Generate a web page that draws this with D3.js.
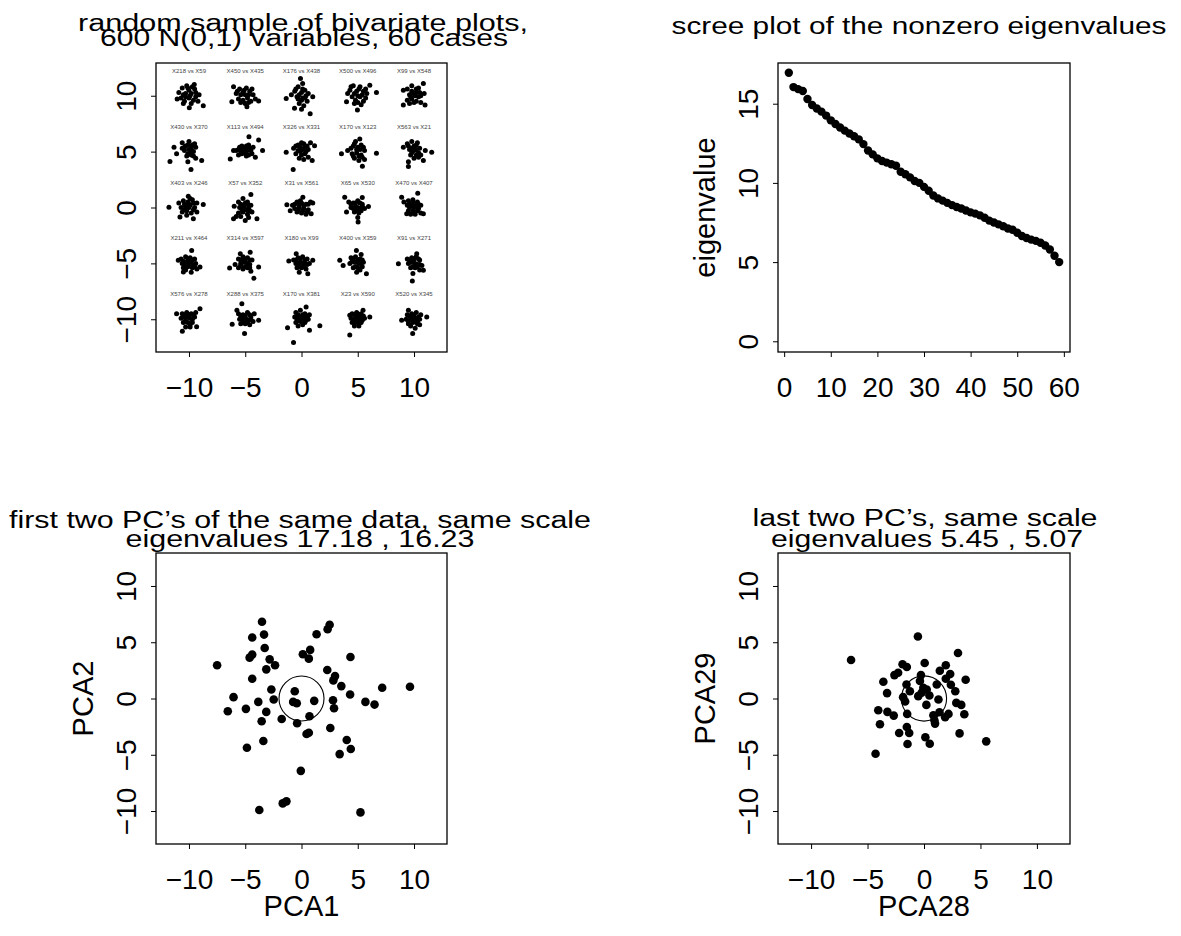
<!DOCTYPE html>
<html>
<head>
<meta charset="utf-8">
<script src="https://cdn.jsdelivr.net/npm/d3@7"></script>
<style>
  body { margin: 0; background: #fff; }
  text { font-family: "Liberation Sans", Arial, Helvetica, sans-serif; }
</style>
</head>
<body>
<div id="chart"></div>
<script>
// grid of bivariate plots (top left)
const gridX = [-10, -5, 0, 5, 10];
const gridY = [10, 5, 0, -5, -10];
const pairLabels = [
  'X218 vs X59', 'X450 vs X435', 'X176 vs X438', 'X500 vs X496', 'X99 vs X548',
  'X430 vs X370', 'X113 vs X494', 'X326 vs X331', 'X170 vs X123', 'X563 vs X21',
  'X403 vs X246', 'X57 vs X352', 'X31 vs X561', 'X65 vs X530', 'X470 vs X407',
  'X211 vs X464', 'X314 vs X597', 'X180 vs X99', 'X400 vs X359', 'X91 vs X271',
  'X576 vs X278', 'X288 vs X375', 'X170 vs X381', 'X23 vs X590', 'X520 vs X345'
];
// offsets of each small cloud from its grid centre
const pairPoints = [
  [[-0.9,0.3],[-0.6,0.7],[-0.3,0.2],[0,0.5],[0.3,0.8],[0.6,0.3],[0.9,0.1],[-0.7,-0.2],[-0.4,-0.5],[0,-0.2],[0.4,-0.4],[0.8,-0.5],[-0.2,0.9],[0.47,1.0],[1.27,-0.89],[0.03,-1.07],[-1.05,-0.3],[0.2,-0.7],
   [-0.5,0.1],[-0.1,0.7],[0.2,0.2],[0.5,0.6],[-0.3,-0.1],[0.6,-0.1],[-0.5,-0.7],[0.1,0.0]],
  [[-0.8,0.2],[-0.5,0.6],[-0.2,0.3],[0.1,0.7],[0.4,0.4],[0.7,0.1],[-0.6,-0.3],[-0.2,-0.4],[0.2,-0.2],[0.5,-0.5],[0,0.1],[-1.04,0.8],[1.19,-0.47],[0.15,-0.98],[-1.19,-0.53],[0.9,-0.3],
   [-0.4,0.1],[-0.1,0.5],[0.3,0.1],[0.6,0.6],[-0.4,-0.6],[0,-0.7],[0.3,-0.6],[-0.7,0.4]],
  [[-0.6,0.4],[-0.3,0.8],[0,0.3],[0.3,0.5],[0.6,0.2],[-0.4,-0.1],[0,-0.4],[0.3,-0.2],[-0.2,-0.7],[0.2,-0.9],[-0.09,1.54],[0.77,-1.6],[-1.36,-0.24],[-0.62,-1.13],[1.0,-0.1],[0.1,1.1],[-0.9,0.1],
   [-0.2,0.1],[0.1,0.6],[0.4,0.0],[-0.5,0.6],[0.1,-0.2],[-0.3,-0.3],[0.5,-0.5],[0,-1.2]],
  [[-0.7,0.5],[-0.4,0.9],[-0.1,0.4],[0.2,0.8],[0.5,0.4],[0.8,0.2],[-0.5,-0.1],[-0.2,-0.4],[0.2,-0.1],[0.5,-0.5],[0,0],[1.66,0.3],[-0.03,-1.27],[1.07,0.95],[-1.0,-0.53],[-0.9,0.2],[0.3,-0.8],
   [-0.3,0.2],[0.1,0.6],[0.4,0.1],[0.7,0.6],[-0.3,-0.7],[0,-0.6],[0.7,-0.2],[-0.6,0.8]],
  [[-0.6,0.6],[-0.2,0.9],[0.2,0.6],[0.5,0.3],[-0.4,0.1],[0,0.2],[0.4,-0.1],[-0.6,-0.4],[-0.2,-0.3],[0.2,-0.5],[0.6,-0.6],[0.83,1.1],[-0.95,-0.83],[0.98,-0.83],[-0.95,0.5],[0.9,0.2],
   [-0.2,0.4],[0.2,0.3],[0.4,0.7],[-0.3,-0.1],[0.1,0],[-0.4,-0.7],[0,-0.6],[0.6,0]],
  [[-0.6,0.8],[-0.3,0.5],[0,0.9],[0.3,0.6],[0.6,0.4],[-0.4,0.1],[0,0.2],[0.4,0],[-0.2,-0.4],[0.2,-0.3],[0.6,-0.6],[-1.69,-0.89],[-1.33,0.39],[0.18,-1.6],[-1.1,-0.2],[1.13,-0.8],[-0.1,-0.9],
   [-0.4,0.4],[-0.1,0.6],[0.2,0.3],[0.5,0.7],[-0.6,0.3],[0.2,0.0],[-0.1,-0.2],[0.4,-0.4]],
  [[-0.8,0.1],[-0.5,0.4],[-0.2,0.2],[0.1,0.5],[0.4,0.3],[0.7,0.4],[-0.6,-0.3],[-0.3,-0.2],[0,-0.1],[0.3,-0.3],[0.6,-0.2],[0.33,1.33],[1.19,1.04],[1.54,0.09],[-1.33,-0.65],[-1.04,0.09],[0.9,-0.5],
   [-0.6,0.2],[-0.3,0.5],[0,0.3],[0.3,0.6],[0.2,0.1],[-0.4,0],[0.1,-0.4],[0.5,0.1]],
  [[-0.7,0.3],[-0.3,0.6],[0,0.8],[0.3,0.4],[0.6,0.2],[-0.5,-0.2],[-0.1,0],[0.3,-0.2],[-0.2,-0.6],[0.2,-0.7],[0.6,-0.5],[-0.74,-1.6],[1.16,0.53],[-1.36,-0.06],[0.95,-0.8],[0.8,0.8],
   [-0.5,0.5],[-0.1,0.4],[0.2,0.7],[0.5,0.5],[-0.3,0.1],[0.1,0.2],[0.4,0],[0,-0.3]],
  [[-0.6,0.3],[-0.3,0.7],[0,0.4],[0.3,0.6],[0.6,0.1],[-0.5,-0.2],[-0.1,-0.1],[0.3,-0.3],[-0.3,-0.6],[0.1,-0.8],[0.6,-0.7],[0.18,1.13],[1.66,-0.15],[-1.45,-0.2],[0.41,-1.3],[-0.9,0.1],
   [-0.4,0.5],[-0.1,0.2],[0.2,0.2],[0.5,0.4],[-0.2,0.9],[0.1,-0.4],[-0.4,-0.4],[0.4,-0.5]],
  [[-0.6,0.7],[-0.2,0.9],[0.2,0.6],[0.5,0.3],[-0.4,0.2],[0,0.1],[0.4,-0.1],[-0.3,-0.3],[0,-0.6],[0.4,-0.5],[-0.5,-0.9],[1.57,-0.06],[-0.5,-1.33],[-0.95,0.39],[0.83,-0.8],[1.0,0.1],
   [-0.5,0.5],[0,0.5],[0.3,0.8],[-0.2,0.3],[0.2,0.2],[-0.2,-0.1],[0.2,-0.3],[0.6,-0.3]],
  [[-0.9,0.4],[-0.5,0.6],[-0.1,0.5],[0.3,0.7],[0.7,0.4],[-0.7,0],[-0.3,0.1],[0.1,0.2],[0.5,0],[-0.6,-0.4],[-0.2,-0.3],[0.2,-0.5],[0.7,-0.4],[-1.78,0.03],[-0.06,1.0],[1.27,0.27],[-0.8,-0.86],[0.39,-1.0],
   [-0.4,0.3],[0,0.3],[0.4,0.4],[-0.4,-0.2],[0,0],[0.4,-0.2],[-0.2,-0.7],[0.1,0.8]],
  [[-0.6,0.5],[-0.2,0.8],[0.2,0.5],[0.5,0.2],[-0.5,0],[-0.1,0.1],[0.3,-0.1],[-0.6,-0.5],[-0.2,-0.4],[0.2,-0.6],[0.6,-0.4],[0.5,1.16],[-0.98,0.12],[-1.04,-1.0],[1.04,-1.0],[0,-1.16],[-0.8,-0.8],
   [-0.4,0.3],[0,0.4],[0.3,0.2],[-0.3,-0.2],[0.1,-0.2],[0.4,-0.3],[-0.4,-0.8],[0.3,-0.9]],
  [[-0.8,0.2],[-0.4,0.5],[0,0.4],[0.4,0.3],[0.8,0.5],[-0.6,-0.1],[-0.2,0],[0.2,-0.1],[0.6,-0.2],[-0.4,-0.4],[0,-0.5],[0.4,-0.6],[-1.3,0.24],[1.0,0.41],[0.86,-0.56],[0.12,0.92],[-1.0,-0.3],
   [-0.6,0.3],[-0.2,0.3],[0.2,0.2],[0.6,0.3],[-0.3,-0.2],[0.1,-0.3],[0.5,-0.4],[-0.1,0.6]],
  [[-0.8,0.5],[-0.4,0.4],[0,0.6],[0.4,0.3],[-0.6,0],[-0.2,0.1],[0.2,-0.1],[0.6,-0.1],[-0.3,-0.4],[0.1,-0.5],[0,-0.9],[-1.16,0.92],[0.95,0.09],[0.03,-1.3],[-1.0,-0.41],[0.4,0.9],
   [-0.6,0.3],[-0.2,0.4],[0.2,0.4],[-0.4,-0.1],[0,0],[0.4,0.1],[-0.1,-0.3],[0.3,-0.3]],
  [[-0.5,0.6],[-0.1,0.7],[0.3,0.5],[-0.6,0.2],[-0.2,0.2],[0.2,0.1],[0.6,0.2],[-0.5,-0.3],[-0.1,-0.3],[0.3,-0.3],[0.6,-0.5],[0.33,1.27],[-1.1,0.92],[0.83,-0.56],[-0.65,-0.56],[-0.9,0.5],
   [-0.4,0.4],[0,0.4],[0.4,0.3],[-0.4,0],[0,0],[0.4,-0.1],[-0.3,-0.6],[0.1,-0.6]],
  [[-0.7,0.4],[-0.3,0.6],[0.1,0.5],[0.5,0.4],[-0.6,0],[-0.2,0.1],[0.2,0.1],[0.6,0],[-0.5,-0.4],[-0.1,-0.3],[0.3,-0.4],[0.7,-0.5],[0.24,1.16],[-0.95,0.27],[0.98,-0.33],[-0.5,-0.77],[0.2,-0.8],
   [-0.5,0.2],[-0.1,0.3],[0.3,0.3],[-0.4,-0.2],[0,-0.1],[0.4,-0.2],[-0.3,-0.6],[0.5,-0.3]],
  [[-0.6,0.4],[-0.2,0.6],[0.2,0.5],[0.6,0.3],[-0.4,0],[0,0.1],[0.4,-0.1],[-0.6,-0.4],[-0.2,-0.5],[0.2,-0.4],[0.5,-0.7],[-1.39,-0.41],[0.77,-1.33],[1.19,-0.33],[-0.44,0.86],[0.44,1.0],[-0.9,-0.1],
   [-0.4,0.3],[0,0.4],[0.4,0.3],[-0.2,0.1],[0.2,0],[-0.4,-0.2],[0,-0.3],[0.4,-0.4]],
  [[-0.7,0.3],[-0.3,0.5],[0.1,0.6],[0.5,0.4],[-0.5,0],[-0.1,0.1],[0.3,0],[0.7,0],[-0.4,-0.4],[0,-0.4],[0.4,-0.5],[-1.13,0.21],[1.0,0.27],[0.56,-0.92],[-0.47,0.86],[-0.2,-0.8],
   [-0.5,0.3],[-0.1,0.4],[0.3,0.3],[-0.3,0],[0.1,0],[0.5,-0.1],[-0.2,-0.3],[0.2,-0.3]],
  [[-0.6,0.5],[-0.2,0.6],[0.2,0.4],[-0.7,0],[-0.3,0.1],[0.1,0],[0.5,0.1],[-0.4,-0.4],[0,-0.4],[0.4,-0.3],[-0.1,-0.8],[-1.6,0.27],[-1.3,-0.18],[-0.12,1.16],[0.77,-0.92],[0.3,0.8],
   [-0.4,0.4],[0,0.3],[0.4,0.3],[-0.5,0.2],[-0.1,0.1],[0.3,0],[-0.2,-0.3],[0.2,-0.6]],
  [[-0.6,0.4],[-0.2,0.5],[0.2,0.6],[0.5,0.3],[-0.5,0],[-0.1,0.1],[0.3,-0.1],[0.7,-0.2],[-0.3,-0.4],[0.1,-0.4],[0.5,-0.6],[-0.15,-1.57],[-1.39,-0.03],[0.83,-0.62],[0.24,0.86],[-0.1,-0.9],
   [-0.4,0.3],[0,0.4],[0.4,0.4],[-0.3,0.1],[0.1,0],[0.5,-0.1],[-0.1,-0.3],[0.3,-0.3]],
  [[-0.6,0.5],[-0.2,0.6],[0.2,0.5],[0.6,0.6],[-0.7,0.1],[-0.3,0.1],[0.1,0.1],[0.5,0.2],[-0.5,-0.3],[-0.1,-0.3],[0.3,-0.3],[-0.3,-0.7],[-0.59,-1.07],[-1.1,0.5],[0.98,0.95],[0.68,-0.68],[0.1,-0.7],
   [-0.4,0.4],[0,0.4],[0.4,0.4],[-0.5,0.2],[-0.1,0.2],[0.3,0],[-0.3,-0.2],[0.1,-0.5]],
  [[-0.6,0.5],[-0.2,0.4],[0.2,0.6],[0.5,0.2],[-0.5,0],[-0.1,0.1],[0.3,-0.1],[0.7,-0.2],[-0.4,-0.4],[0,-0.4],[0.4,-0.5],[-0.3,1.39],[-1.16,-0.44],[-0.06,-1.27],[-0.74,0.8],[1.19,-0.09],[0.8,0.5],
   [-0.4,0.3],[0,0.3],[0.4,0.4],[-0.3,0],[0.1,0],[0.5,0],[-0.2,-0.3],[0.2,-0.3]],
  [[-0.5,0.6],[-0.1,0.8],[0.3,0.5],[0.7,0.4],[-0.6,0.2],[-0.2,0.2],[0.2,0.1],[0.6,0],[-0.5,-0.3],[-0.1,-0.2],[0.3,-0.3],[-0.3,-0.6],[-0.71,-2.07],[1.63,-0.59],[-1.24,-0.77],[0.71,-0.98],[0.41,1.1],
   [-0.3,0.4],[0.1,0.4],[0.5,0.3],[-0.4,0],[0,0],[0.4,-0.1],[-0.3,-0.1],[0.1,-0.5]],
  [[-0.5,0.5],[-0.1,0.6],[0.3,0.5],[-0.6,0.1],[-0.2,0.2],[0.2,0.1],[0.6,0.1],[-0.5,-0.3],[-0.1,-0.2],[0.3,-0.3],[-0.3,-0.6],[0.1,-0.6],[-0.71,-1.42],[1.07,0.21],[0.47,0.8],[-0.71,0.36],
   [-0.3,0.4],[0.1,0.4],[0.5,0.3],[-0.4,-0.1],[0,0],[0.4,-0.1],[-0.3,-0.4],[0.1,-0.4]],
  [[-0.6,0.4],[-0.2,0.5],[0.2,0.6],[0.6,0.4],[-0.7,0],[-0.3,0.1],[0.1,0.1],[0.5,0],[-0.5,-0.4],[-0.1,-0.3],[0.3,-0.4],[0.1,-0.8],[-0.5,0.8],[1.13,0.21],[-0.12,-1.27],[-1.1,-0.09],
   [-0.4,0.3],[0,0.3],[0.4,0.2],[-0.5,-0.2],[-0.1,-0.1],[0.3,-0.2],[-0.3,-0.6],[0.5,-0.5]]
];

// scree plot (top right)
const eigenvalues = [
  16.95, 16.05, 15.92, 15.80, 15.30, 14.92, 14.70, 14.50, 14.25, 13.95,
  13.72, 13.50, 13.30, 13.12, 12.95, 12.75, 12.45, 12.05, 11.80, 11.55,
  11.38, 11.28, 11.18, 11.08, 10.70, 10.55, 10.35, 10.12, 10.00, 9.75,
  9.50, 9.20, 9.02, 8.88, 8.74, 8.60, 8.48, 8.38, 8.26, 8.14,
  8.06, 7.95, 7.80, 7.62, 7.50, 7.38, 7.26, 7.12, 7.04, 6.85,
  6.65, 6.52, 6.42, 6.34, 6.22, 6.05, 5.80, 5.40, 5.00
];

// first two PCs (bottom left)
const pca1 = [-3.51,-4.38,-3.33,-3.27,-4.61,-4.38,-2.83,-2.35,-3.13,-7.5,-4.38,-2.68,-2.47,-6.04,-6.55,-4.94,-3.84,-3.13,-3.54,-1.76,-3.39,-4.85,-0.60,-0.74,-0.42,1.13,0.71,-0.39,0.45,0.65,-0.06,-1.67,-1.34,-3.75,5.24,0.12,0.77,0.65,1.34,2.32,2.5,4.35,2.29,2.98,2.83,3.54,4.32,2.80,2.89,2.56,4.02,4.38,3.39,5.68,6.49,7.17,9.64];
const pca2 = [6.82,5.42,5.68,4.49,3.63,3.90,3.48,2.95,2.59,2.95,1.76,0.80,-0.09,0.12,-1.13,-0.92,-0.30,-1.19,-2.02,-1.82,-3.78,-4.38,0.65,-0.30,-0.42,-0.21,-1.58,-2.20,-3.15,-3.04,-6.43,-9.32,-9.14,-9.91,-10.12,3.93,4.32,3.54,5.71,6.16,6.55,3.69,2.53,1.99,1.61,1.10,0.36,-0.15,-0.86,-2.62,-3.69,-4.49,-4.94,-0.30,-0.54,0.95,1.04];

// last two PCs (bottom right)
const pca28 = [-0.54,-6.46,3.01,-1.90,-1.52,-2.62,-2.29,0.06,1.40,1.93,2.32,1.93,3.69,-3.60,-0.27,-0.36,-1.55,1.13,2.38,-3.27,-1.25,-0.06,0.24,-0.51,-0.21,0.48,2.77,-1.85,-1.67,1.28,0.21,2.86,3.30,-4.05,-3.24,-2.68,-1.49,1.37,0.83,0.92,1.87,2.17,3.57,-3.90,0.98,-1.52,-2.20,-1.31,0.12,0.51,-1.46,3.15,5.51,-4.29];
const pca29 = [5.51,3.42,4.05,3.04,2.80,2.08,2.29,3.15,2.47,2.95,2.17,1.76,1.67,1.49,2.08,1.55,1.25,1.25,1.22,0.48,0.65,0.95,0.80,0.21,0.51,0.27,0.65,0.12,-0.27,-0.09,-0.57,-0.39,-0.57,-1.04,-1.19,-1.52,-1.37,-1.22,-1.49,-1.93,-1.67,-1.37,-1.40,-2.29,-2.23,-2.53,-3.07,-3.07,-3.45,-4.02,-4.05,-3.10,-3.81,-4.91];

const symTicks = [-10, -5, 0, 5, 10];
const screeXTicks = [0, 10, 20, 30, 40, 50, 60];
const screeYTicks = [0, 5, 10, 15];
const circleRadius = 2;

const W = 1181, H = 936;
const svg = d3.select('#chart').append('svg')
  .attr('width', W)
  .attr('height', H);
svg.append('rect').attr('width', W).attr('height', H).attr('fill', '#fff');

const fmt = d3.format('d');

// draws box, axes and labels, returns scales
function panel(o) {
  const x = d3.scaleLinear().domain(o.xDomain).range([o.left, o.right]);
  const y = d3.scaleLinear().domain(o.yDomain).range([o.bottom, o.top]);
  const g = svg.append('g');

  const xAxis = g.append('g')
    .attr('transform', `translate(0,${o.bottom})`)
    .call(d3.axisBottom(x).tickValues(o.xTicks).tickFormat(fmt).tickSize(5).tickSizeOuter(0));
  xAxis.select('.domain').remove();
  xAxis.selectAll('line').attr('stroke', '#000');
  xAxis.selectAll('text')
    .attr('y', 45).attr('dy', 0)
    .attr('fill', '#000')
    .style('font-size', '28px')
    .style('font-family', '"Liberation Sans", Arial, sans-serif');

  const yAxis = g.append('g')
    .attr('transform', `translate(${o.left},0)`)
    .call(d3.axisLeft(y).tickValues(o.yTicks).tickFormat(fmt).tickSize(5).tickSizeOuter(0));
  yAxis.select('.domain').remove();
  yAxis.selectAll('line').attr('stroke', '#000');
  yAxis.selectAll('text')
    .attr('transform', 'rotate(-90)')
    .attr('x', 0).attr('y', -20).attr('dy', 0)
    .attr('text-anchor', 'middle')
    .attr('fill', '#000')
    .style('font-size', '28px')
    .style('font-family', '"Liberation Sans", Arial, sans-serif');

  g.append('rect')
    .attr('x', o.left).attr('y', o.top)
    .attr('width', o.right - o.left).attr('height', o.bottom - o.top)
    .attr('fill', 'none').attr('stroke', '#000').attr('stroke-width', 1.3);

  o.titles.forEach(t => {
    g.append('text')
      .attr('x', t.x).attr('y', t.y)
      .attr('text-anchor', 'middle')
      .attr('textLength', t.w)
      .attr('lengthAdjust', 'spacingAndGlyphs')
      .style('font-size', '23px')
      .text(t.text);
  });
  if (o.xlab) {
    g.append('text')
      .attr('x', (o.left + o.right) / 2).attr('y', o.bottom + 72)
      .attr('text-anchor', 'middle')
      .style('font-size', '29px')
      .text(o.xlab);
  }
  if (o.ylab) {
    g.append('text')
      .attr('transform', `translate(${o.left - 63},${(o.top + o.bottom) / 2}) rotate(-90)`)
      .attr('text-anchor', 'middle')
      .style('font-size', '29px')
      .text(o.ylab);
  }
  return { x, y, g };
}

const lim = [-12.93, 12.93];

// top left: grid of small scatterplots
const p1 = panel({
  left: 156, right: 447, top: 63, bottom: 352,
  xDomain: lim, yDomain: lim, xTicks: symTicks, yTicks: symTicks,
  titles: [
    { text: 'random sample of bivariate plots,', x: 303, y: 31, w: 450 },
    { text: '600 N(0,1) variables, 60 cases', x: 304, y: 46, w: 408 }
  ]
});
pairLabels.forEach((lab, i) => {
  const cx = gridX[i % 5], cy = gridY[Math.floor(i / 5)];
  p1.g.append('text')
    .attr('x', p1.x(cx)).attr('y', p1.y(cy + 2.05))
    .attr('text-anchor', 'middle')
    .attr('fill', '#444')
    .style('font-size', '6px')
    .text(lab);
  p1.g.append('g').selectAll('circle')
    .data(pairPoints[i])
    .enter().append('circle')
    .attr('cx', d => p1.x(cx + d[0]))
    .attr('cy', d => p1.y(cy + d[1]))
    .attr('r', 2.5)
    .attr('fill', '#000');
});

// top right: scree plot
const p2 = panel({
  left: 778, right: 1070, top: 63, bottom: 352,
  xDomain: [-1.32, 61.32], yDomain: [-0.676, 17.57],
  xTicks: screeXTicks, yTicks: screeYTicks,
  ylab: 'eigenvalue',
  titles: [{ text: 'scree plot of the nonzero eigenvalues', x: 919, y: 34, w: 495 }]
});
p2.g.append('g').selectAll('circle')
  .data(eigenvalues)
  .enter().append('circle')
  .attr('cx', (d, i) => p2.x(i + 1))
  .attr('cy', d => p2.y(d))
  .attr('r', 4.2)
  .attr('fill', '#000');

// bottom left: first two PCs
const p3 = panel({
  left: 156, right: 447, top: 553, bottom: 844,
  xDomain: lim, yDomain: lim, xTicks: symTicks, yTicks: symTicks,
  xlab: 'PCA1', ylab: 'PCA2',
  titles: [
    { text: 'first two PC\u2019s of the same data, same scale', x: 300, y: 528, w: 582 },
    { text: 'eigenvalues 17.18 , 16.23', x: 300, y: 547, w: 349 }
  ]
});
p3.g.append('circle')
  .attr('cx', p3.x(0)).attr('cy', p3.y(0))
  .attr('r', p3.x(circleRadius) - p3.x(0))
  .attr('fill', 'none').attr('stroke', '#000').attr('stroke-width', 1.1);
p3.g.append('g').selectAll('circle')
  .data(pca1.map((v, i) => [v, pca2[i]]))
  .enter().append('circle')
  .attr('cx', d => p3.x(d[0]))
  .attr('cy', d => p3.y(d[1]))
  .attr('r', 4.3)
  .attr('fill', '#000');

// bottom right: last two PCs
const p4 = panel({
  left: 778, right: 1070, top: 553, bottom: 844,
  xDomain: lim, yDomain: lim, xTicks: symTicks, yTicks: symTicks,
  xlab: 'PCA28', ylab: 'PCA29',
  titles: [
    { text: 'last two PC\u2019s, same scale', x: 925, y: 526, w: 345 },
    { text: 'eigenvalues 5.45 , 5.07', x: 927, y: 547, w: 312 }
  ]
});
p4.g.append('circle')
  .attr('cx', p4.x(0)).attr('cy', p4.y(0))
  .attr('r', p4.x(circleRadius) - p4.x(0))
  .attr('fill', 'none').attr('stroke', '#000').attr('stroke-width', 1.1);
p4.g.append('g').selectAll('circle')
  .data(pca28.map((v, i) => [v, pca29[i]]))
  .enter().append('circle')
  .attr('cx', d => p4.x(d[0]))
  .attr('cy', d => p4.y(d[1]))
  .attr('r', 4.3)
  .attr('fill', '#000');
</script>
</body>
</html>
